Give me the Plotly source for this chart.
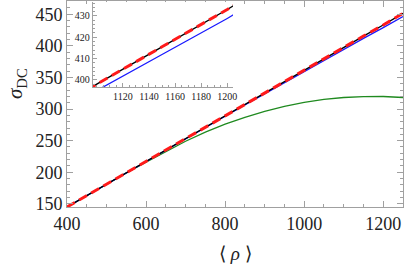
import plotly.graph_objects as go

# ---- data ----
rho = [400, 450, 500, 550, 600, 650, 700, 750, 800, 850, 900, 950,
       1000, 1050, 1100, 1150, 1200, 1250]
sigma_black = [145.0, 163.1, 181.1, 199.2, 217.3, 235.4, 253.4, 271.5, 289.6,
               307.6, 325.7, 343.8, 361.9, 379.9, 398.0, 415.5, 433.0, 451.5]
sigma_red = [145.0, 163.1, 181.1, 199.2, 217.3, 235.4, 253.4, 271.5, 289.6,
             307.6, 325.7, 343.8, 361.9, 379.9, 398.0, 415.5, 433.0, 451.5]
sigma_blue = [145.0, 163.1, 181.0, 199.1, 217.1, 235.1, 252.9, 270.8, 288.7,
              306.4, 324.2, 342.0, 359.7, 377.3, 395.0, 411.9, 428.8, 446.5]
sigma_green = [145.0, 163.1, 181.1, 198.9, 216.0, 233.0, 249.0, 263.4, 276.0,
               287.0, 296.4, 304.2, 310.5, 315.2, 318.3, 319.8, 319.9, 318.3]

x_ticks = [400, 600, 800, 1000, 1200]
y_ticks = [150, 200, 250, 300, 350, 400, 450]
inset_x_ticks = [1120, 1140, 1160, 1180, 1200]
inset_y_ticks = [400, 410, 420, 430]

FONT = "Liberation Serif, Times New Roman, serif"
FRAME = "#a0a0a0"
GREEN = "#1f8a1f"

fig = go.Figure()

def add_series(xa, ya):
    fig.add_trace(go.Scatter(x=rho, y=sigma_green, mode="lines",
                             line=dict(color=GREEN, width=1.3),
                             xaxis=xa, yaxis=ya, showlegend=False))
    fig.add_trace(go.Scatter(x=rho, y=sigma_blue, mode="lines",
                             line=dict(color="#1a1aff", width=1.3),
                             xaxis=xa, yaxis=ya, showlegend=False))
    fig.add_trace(go.Scatter(x=rho, y=sigma_black, mode="lines",
                             line=dict(color="black", width=1.4),
                             xaxis=xa, yaxis=ya, showlegend=False))
    fig.add_trace(go.Scatter(x=rho, y=sigma_red, mode="lines",
                             line=dict(color="#ff1a1a", width=3, dash="9px,5px"),
                             xaxis=xa, yaxis=ya, showlegend=False))

add_series("x", "y")
add_series("x2", "y2")

fig.update_layout(
    width=407, height=268,
    margin=dict(l=67, r=4, t=1, b=61),
    paper_bgcolor="white", plot_bgcolor="white",
    font=dict(family=FONT, color="#222"),
    xaxis=dict(range=[400, 1250], tickvals=x_ticks, showgrid=False, zeroline=False,
               showline=True, linecolor=FRAME, linewidth=1, mirror="ticks",
               ticks="inside", ticklen=6, tickcolor=FRAME,
               minor=dict(dtick=50, tick0=400, ticks="inside", ticklen=3, tickcolor=FRAME),
               tickfont=dict(size=18, family=FONT, color="#222")),
    yaxis=dict(range=[145, 471], tickvals=y_ticks, showgrid=False, zeroline=False,
               showline=True, linecolor=FRAME, linewidth=1, mirror="ticks",
               ticks="inside", ticklen=6, tickcolor=FRAME,
               minor=dict(dtick=10, tick0=150, ticks="inside", ticklen=3, tickcolor=FRAME),
               tickfont=dict(size=18, family=FONT, color="#222")),
    xaxis2=dict(domain=[0.077, 0.494], anchor="y2", range=[1097, 1204.4],
                tickvals=inset_x_ticks, showgrid=False, zeroline=False,
                showline=True, linecolor=FRAME, linewidth=1,
                ticks="inside", ticklen=4, tickcolor=FRAME,
                minor=dict(dtick=5, tick0=1100, ticks="inside", ticklen=2, tickcolor=FRAME),
                tickfont=dict(size=10, family=FONT, color="#222")),
    yaxis2=dict(domain=[0.583, 0.995], anchor="x2", range=[396.7, 436.5],
                tickvals=inset_y_ticks, showgrid=False, zeroline=False,
                showline=True, linecolor=FRAME, linewidth=1,
                ticks="inside", ticklen=4, tickcolor=FRAME,
                minor=dict(dtick=2, tick0=400, ticks="inside", ticklen=2, tickcolor=FRAME),
                tickfont=dict(size=10, family=FONT, color="#222")),
    annotations=[
        dict(text="⟨ <i>ρ</i> ⟩", xref="paper", yref="paper", x=0.5, y=-0.225,
             xanchor="center", yanchor="middle", showarrow=False,
             font=dict(size=19, family=FONT, color="#222")),
        dict(text="<i>σ</i><sub>DC</sub>", xref="paper", yref="paper", x=-0.15, y=0.6,
             xanchor="center", yanchor="middle", showarrow=False, textangle=-90,
             font=dict(size=21, family=FONT, color="#222")),
    ],
)

fig.write_html("out.html", config={"displayModeBar": False},
               post_script="document.body.style.margin='0';document.body.style.padding='0';")
